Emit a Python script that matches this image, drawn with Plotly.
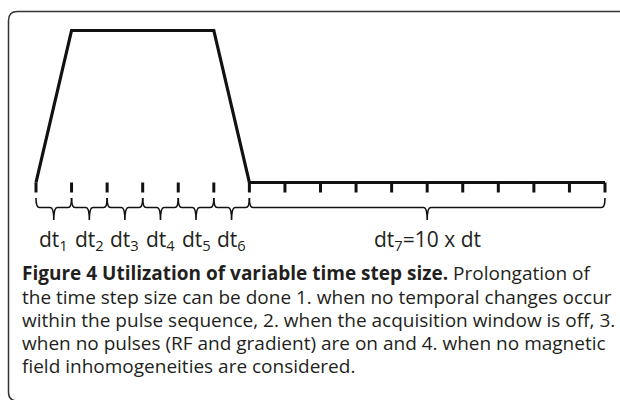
import plotly.graph_objects as go

# ---------------- data ----------------
pulse_t = [0, 1, 5, 6, 16]          # time in units of dt
pulse_amp = [0, 1, 1, 0, 0]         # normalised gradient amplitude
step_edges = [0, 1, 2, 3, 4, 5, 6, 7, 8, 9, 10, 11, 12, 13, 14, 15, 16]
interval_start = [0, 1, 2, 3, 4, 5, 6]
interval_end = [1, 2, 3, 4, 5, 6, 16]
interval_labels = ["dt<sub>1</sub>", "dt<sub>2</sub>", "dt<sub>3</sub>", "dt<sub>4</sub>",
                   "dt<sub>5</sub>", "dt<sub>6</sub>", "dt<sub>7</sub>=10 x dt"]
caption_lines = [
    "<b>Figure 4 Utilization of variable time step size.</b> Prolongation of",
    "the time step size can be done 1. when no temporal changes occur",
    "within the pulse sequence, 2. when the acquisition window is off, 3.",
    "when no pulses (RF and gradient) are on and 4. when no magnetic",
    "field inhomogeneities are considered.",
]

# ---------------- layout constants (pixels) ----------------
W, H = 620, 400
X0_PX, PX_PER_DT = 36.0, 35.5625
Y0_PX, PX_PER_AMP = 182.5, 152.0


def py2amp(py):
    return (Y0_PX - py) / PX_PER_AMP


def px2dt(px):
    return px / PX_PER_DT


x_range = [-X0_PX / PX_PER_DT, (W - X0_PX) / PX_PER_DT]
y_range = [py2amp(H), py2amp(0)]

INK = "#111111"
TEXT = "#231f20"
FONT = "Open Sans"

fig = go.Figure()

# pulse
fig.add_trace(go.Scatter(x=pulse_t, y=pulse_amp, mode="lines",
                         line=dict(color=INK, width=3.2), hoverinfo="skip"))

# time-step tick marks
tx, ty = [], []
for e in step_edges:
    tx += [e, e, None]
    ty += [0, py2amp(192.5), None]
fig.add_trace(go.Scatter(x=tx, y=ty, mode="lines",
                         line=dict(color=INK, width=3), hoverinfo="skip"))

# braces
top, mid, stem = py2amp(198), py2amp(207.5), py2amp(220)
r = px2dt(3.5)
shapes = []
for a, b in zip(interval_start, interval_end):
    c = (a + b) / 2
    path = (f"M {a},{top} Q {a},{mid} {a + r},{mid} L {c - r},{mid} "
            f"Q {c},{mid} {c},{stem} "
            f"M {c},{stem} Q {c},{mid} {c + r},{mid} L {b - r},{mid} "
            f"Q {b},{mid} {b},{top}")
    shapes.append(dict(type="path", xref="x", yref="y", path=path,
                       line=dict(color=INK, width=1.6)))

# frame (rounded box)
def P(px, py):
    return f"{px / W},{1 - py / H}"

frame = (f"M {P(8.5, 392)} L {P(8.5, 20.5)} Q {P(8.5, 11.5)} {P(17.5, 11.5)} "
         f"L {P(630, 11.5)}")
shapes.append(dict(type="path", xref="paper", yref="paper", path=frame,
                   line=dict(color="#333333", width=1.5)))
frame2 = f"M {P(8.5, 392)} Q {P(8.5, 401)} {P(17.5, 401)} L {P(630, 401)}"
shapes.append(dict(type="path", xref="paper", yref="paper", path=frame2,
                   line=dict(color="#333333", width=1.5)))

annotations = []
for a, b, lab in zip(interval_start, interval_end, interval_labels):
    annotations.append(dict(x=(a + b) / 2, y=py2amp(240), xref="x", yref="y",
                            text=lab, showarrow=False, xanchor="center", yanchor="middle",
                            font=dict(family=FONT, size=21, color=TEXT)))

line_y = [273, 296.5, 320, 343, 366]
for ly, txt in zip(line_y, caption_lines):
    annotations.append(dict(x=20 / W, y=1 - ly / H, xref="paper", yref="paper",
                            text=txt, showarrow=False, xanchor="left", yanchor="middle",
                            font=dict(family=FONT, size=19, color=TEXT)))

fig.update_layout(
    width=W, height=H, margin=dict(l=0, r=0, t=0, b=0),
    paper_bgcolor="white", plot_bgcolor="white", showlegend=False,
    xaxis=dict(range=x_range, visible=False, fixedrange=True),
    yaxis=dict(range=y_range, visible=False, fixedrange=True),
    shapes=shapes, annotations=annotations,
)

fig.write_html("out.html", config={"displayModeBar": False},
               post_script="document.body.style.margin='0';document.body.style.padding='0';")
